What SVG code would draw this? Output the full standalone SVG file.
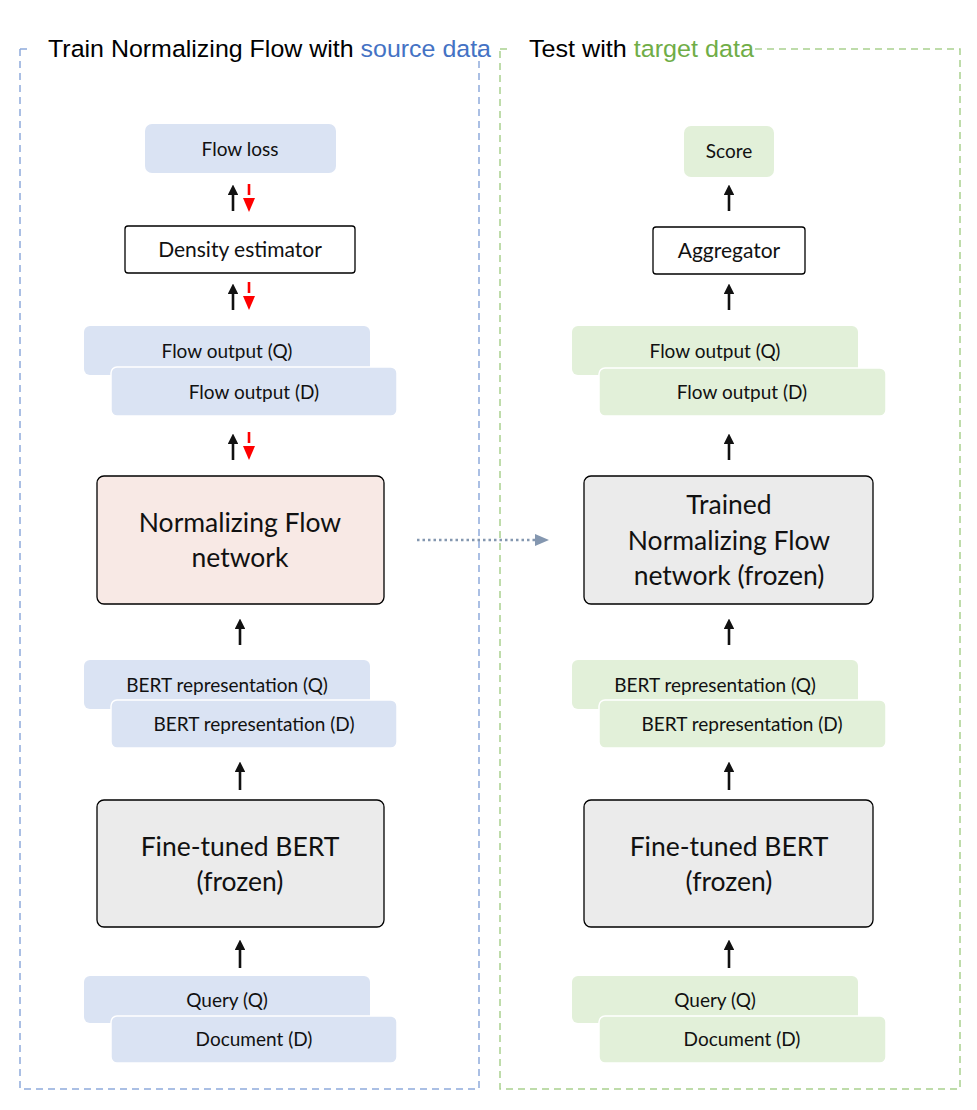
<svg xmlns="http://www.w3.org/2000/svg" width="977" height="1110" viewBox="0 0 977 1110">
<defs>
<style>
.hdr{font-family:"Liberation Sans",Arial,sans-serif;font-size:24.5px;fill:#000}
.lbl{font-family:Lato,"Open Sans",sans-serif;fill:#111;text-anchor:middle}
.s17{font-size:19px}
.s19{font-size:21px}
.s25{font-size:26.5px}
.blue{fill:#DAE3F3}
.green{fill:#E2F0D9}
.stk{stroke:#fff;stroke-width:1.5}
.box{stroke:#000;stroke-width:1.3}
.dashB{fill:none;stroke:#8FAADC;stroke-width:1.5;stroke-dasharray:7 5}
.dashG{fill:none;stroke:#A9D18E;stroke-width:1.5;stroke-dasharray:7 5}
.up{stroke:#111;stroke-width:2.6;fill:none}
.red{stroke:#FF0000;stroke-width:2.6;fill:none}
</style>
<marker id="ah" viewBox="0 0 10 10" refX="5" refY="5" markerWidth="4.2" markerHeight="4.2" orient="auto">
<path d="M0,0 L10,5 L0,10 z" fill="#111"/>
</marker>
</defs>
<rect width="977" height="1110" fill="#fff"/>

<g id="frames">
<path class="dashB" d="M20,49 H32 M20,49 V1089 H479 V49"/>
<path class="dashG" d="M500,49 H512 M755,49 H960 V1089 H500 V49"/>
<text class="hdr" x="48" y="57" textLength="443" lengthAdjust="spacingAndGlyphs">Train Normalizing Flow with <tspan fill="#4472C4">source data</tspan></text>
<text class="hdr" x="529" y="57" textLength="225" lengthAdjust="spacingAndGlyphs">Test with <tspan fill="#70AD47">target data</tspan></text>
</g>

<g id="flow-loss"><rect class="blue" x="145" y="124" width="191" height="49" rx="7"/><text class="lbl s17" x="240" y="156">Flow loss</text></g>
<g id="density-estimator"><rect class="box" fill="#fff" x="125" y="226" width="230" height="47" rx="3"/><text class="lbl s19" x="240" y="257">Density estimator</text></g>
<g id="flow-output-q-left"><rect class="blue" x="84" y="326" width="286" height="49" rx="6"/><text class="lbl s17" x="227" y="358">Flow output (Q)</text></g>
<g id="flow-output-d-left"><rect class="blue stk" x="111" y="367" width="286" height="49" rx="6"/><text class="lbl s17" x="254" y="399">Flow output (D)</text></g>
<g id="nf-network"><rect class="box" fill="#F8E9E5" x="97" y="476" width="287" height="128" rx="7"/><text class="lbl s25" x="240" y="532">Normalizing Flow</text><text class="lbl s25" x="240" y="567">network</text></g>
<g id="bert-rep-q-left"><rect class="blue" x="84" y="660" width="286" height="49" rx="6"/><text class="lbl s17" x="227" y="692">BERT representation (Q)</text></g>
<g id="bert-rep-d-left"><rect class="blue stk" x="111" y="700" width="286" height="48" rx="6"/><text class="lbl s17" x="254" y="731">BERT representation (D)</text></g>
<g id="bert-left"><rect class="box" fill="#EBEBEB" x="97" y="800" width="287" height="127" rx="7"/><text class="lbl s25" x="240" y="856">Fine-tuned BERT</text><text class="lbl s25" x="240" y="891">(frozen)</text></g>
<g id="query-left"><rect class="blue" x="84" y="976" width="286" height="47" rx="6"/><text class="lbl s17" x="227" y="1007">Query (Q)</text></g>
<g id="document-left"><rect class="blue stk" x="111" y="1016" width="286" height="47" rx="6"/><text class="lbl s17" x="254" y="1046">Document (D)</text></g>

<g id="score"><rect class="green" x="684" y="126" width="90" height="51" rx="7"/><text class="lbl s17" x="729" y="158">Score</text></g>
<g id="aggregator"><rect class="box" fill="#fff" x="653" y="227" width="152" height="47" rx="3"/><text class="lbl s19" x="729" y="258">Aggregator</text></g>
<g id="flow-output-q-right"><rect class="green" x="572" y="326" width="286" height="49" rx="6"/><text class="lbl s17" x="715" y="358">Flow output (Q)</text></g>
<g id="flow-output-d-right"><rect class="green stk" x="599" y="368" width="287" height="48" rx="6"/><text class="lbl s17" x="742" y="399">Flow output (D)</text></g>
<g id="trained-nf"><rect class="box" fill="#EBEBEB" x="584" y="476" width="289" height="128" rx="7"/><text class="lbl s25" x="729" y="514">Trained</text><text class="lbl s25" x="729" y="550">Normalizing Flow</text><text class="lbl s25" x="729" y="585">network (frozen)</text></g>
<g id="bert-rep-q-right"><rect class="green" x="572" y="660" width="286" height="49" rx="6"/><text class="lbl s17" x="715" y="692">BERT representation (Q)</text></g>
<g id="bert-rep-d-right"><rect class="green stk" x="599" y="700" width="287" height="48" rx="6"/><text class="lbl s17" x="742" y="731">BERT representation (D)</text></g>
<g id="bert-right"><rect class="box" fill="#EBEBEB" x="584" y="800" width="289" height="127" rx="7"/><text class="lbl s25" x="729" y="856">Fine-tuned BERT</text><text class="lbl s25" x="729" y="891">(frozen)</text></g>
<g id="query-right"><rect class="green" x="572" y="976" width="286" height="47" rx="6"/><text class="lbl s17" x="715" y="1007">Query (Q)</text></g>
<g id="document-right"><rect class="green stk" x="599" y="1016" width="287" height="47" rx="6"/><text class="lbl s17" x="742" y="1046">Document (D)</text></g>

<g id="connectors">
<g class="up" marker-end="url(#ah)">
<path d="M233,211 V190"/>
<path d="M233,310 V289"/>
<path d="M233,460 V439"/>
<path d="M240,645 V624"/>
<path d="M240,790 V767"/>
<path d="M240,968 V945"/>
<path d="M729,211 V190"/>
<path d="M729,310 V289"/>
<path d="M729,460 V439"/>
<path d="M729,645 V624"/>
<path d="M729,790 V767"/>
<path d="M729,968 V945"/>
</g>
<g>
<path class="red" d="M249,184 V195"/><path d="M243,198 H255 L249,212 z" fill="#FF0000"/>
<path class="red" d="M249,282 V293"/><path d="M243,296 H255 L249,310 z" fill="#FF0000"/>
<path class="red" d="M249,432 V443"/><path d="M243,446 H255 L249,460 z" fill="#FF0000"/>
</g>
<path d="M417,540 H536" stroke="#8497B0" stroke-width="2.5" stroke-dasharray="2.5 3" fill="none"/>
<path d="M535,534 L549,540 L535,546 z" fill="#8497B0"/>
</g>
</svg>
